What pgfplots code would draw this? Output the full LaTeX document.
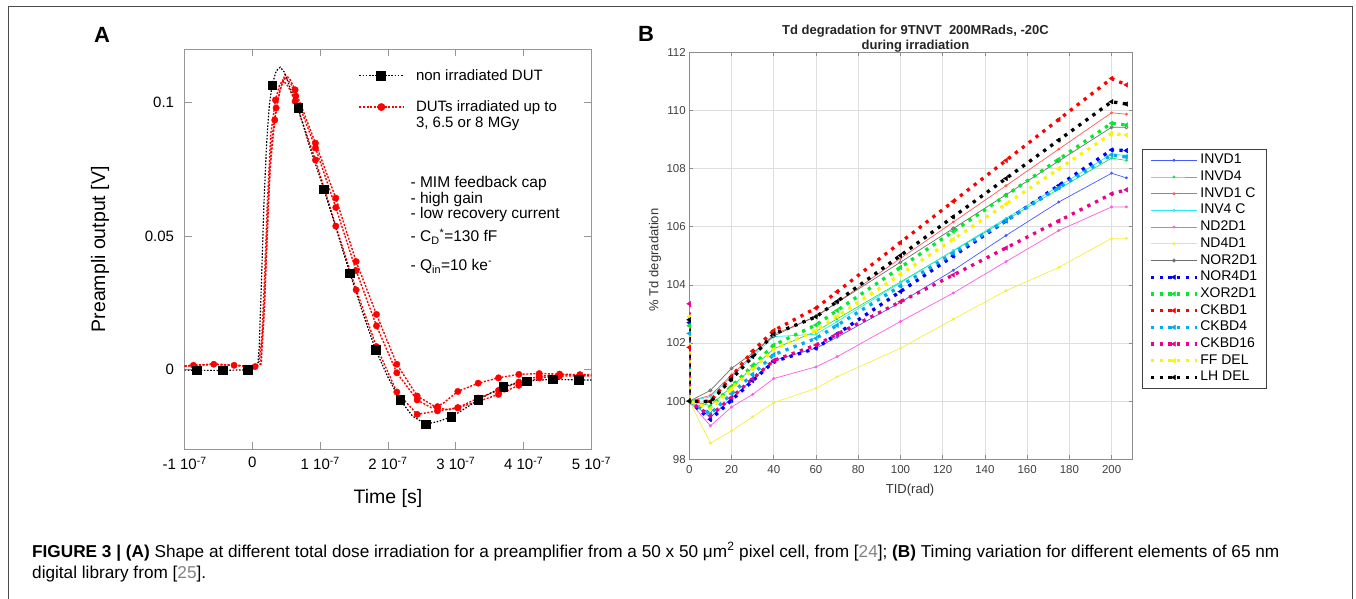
\documentclass[border=0pt]{standalone}
\usepackage{fontspec}
\setmainfont{Liberation Sans}
\usepackage{pgfplots}
\pgfplotsset{compat=1.18}
\definecolor{axgray}{RGB}{150,150,150}
\definecolor{mgreen}{RGB}{0,235,40}
\definecolor{sgreen}{RGB}{40,220,90}
\definecolor{sred}{RGB}{255,90,90}
\definecolor{sblue}{RGB}{70,90,255}
\definecolor{scyan}{RGB}{40,235,240}
\definecolor{smag}{RGB}{255,90,230}
\definecolor{syel}{RGB}{245,240,60}
\definecolor{sgray}{RGB}{110,110,110}
\definecolor{refgray}{RGB}{130,130,130}
\begin{document}
\begin{tikzpicture}[x=1pt,y=1pt]
\path[use as bounding box] (0,0) rectangle (1356,598);
\draw[color=black!70, line width=1pt] (8,-2) -- (8,591) -- (1352,591) -- (1352,-2);
% ---------------- Panel A ----------------
\begin{axis}[
  at={(184.6pt,548.7pt)}, anchor=north west, scale only axis,
  width=406.8pt, height=400pt,
  xmin=-1, xmax=5, ymin=-0.03, ymax=0.12,
  xtick={-1,0,1,2,3,4,5},
  xticklabels={-1 10\textsuperscript{-7},0,1 10\textsuperscript{-7},2 10\textsuperscript{-7},3 10\textsuperscript{-7},4 10\textsuperscript{-7},5 10\textsuperscript{-7}},
  ytick={0,0.05,0.1}, yticklabels={0,0.05,0.1},
  axis line style={draw=axgray, line width=0.9pt},
  tick style={draw=axgray, line width=0.9pt}, major tick length=7pt,
  ticklabel style={font=\fontsize{15}{18}\selectfont},
  xticklabel style={yshift=-4pt},
  yticklabel style={xshift=-7pt},
  xlabel={Time [s]}, ylabel={Preampli output [V]},
  label style={font=\fontsize{19.5}{23}\selectfont},
  xlabel style={at={(axis description cs:0.5,-0.122)}, anchor=center},
  ylabel style={at={(axis description cs:-0.208,0.5)}, anchor=center},
  legend image code/.code={\draw[mark repeat=2,mark phase=2,#1] plot coordinates {(0pt,0pt) (22pt,0pt) (44pt,0pt)};},
  legend style={at={(axis description cs:0.42,0.96)}, anchor=north west, draw=none, fill=none,
    font=\fontsize{15}{16}\selectfont, row sep=15pt, column sep=10pt, nodes={inner sep=2pt}},
  legend cell align=left,
  clip=true,
]
% red curves (forget plot)
\addplot[red, line width=1.4pt, dash pattern=on 2pt off 1.6pt, forget plot] coordinates {
(-1,0.0012)(-0.87,0.0015)(-0.57,0.0019)(-0.27,0.0015)(0.04,0.001)(0.1,0.003)(0.14,0.012)(0.18,0.035)(0.22,0.062)(0.27,0.088)(0.34,0.101)(0.4,0.1065)(0.45,0.1085)(0.53,0.106)(0.63,0.1005)(0.93,0.0785)(1.23,0.0537)(1.53,0.0298)(1.83,0.0085)(2.13,-0.0085)(2.43,-0.0169)(2.73,-0.0156)(3.03,-0.0144)(3.33,-0.0121)(3.63,-0.0094)(3.93,-0.006)(4.23,-0.0032)(4.53,-0.0025)(4.83,-0.0025)(5,-0.0025)};
\addplot[red, only marks, mark=*, mark size=3.2pt, forget plot] coordinates {
(-0.87,0.0015)(-0.57,0.0019)(-0.27,0.0015)(0.04,0.001)(0.34,0.101)(0.63,0.1005)(0.93,0.0785)(1.23,0.0537)(1.53,0.0298)(1.83,0.0085)(2.13,-0.0085)(2.43,-0.0169)(2.73,-0.0156)(3.03,-0.0144)(3.33,-0.0121)(3.63,-0.0094)(3.93,-0.006)(4.23,-0.0032)(4.53,-0.0025)(4.83,-0.0025)};
\addplot[red, line width=1.4pt, dash pattern=on 2pt off 1.6pt, forget plot] coordinates {
(-1,0.0012)(-0.87,0.0015)(-0.57,0.0019)(-0.27,0.0015)(0.04,0.001)(0.12,0.002)(0.17,0.02)(0.21,0.045)(0.26,0.075)(0.33,0.0935)(0.4,0.104)(0.48,0.1105)(0.55,0.109)(0.63,0.1048)(0.93,0.0848)(1.23,0.0642)(1.53,0.0404)(1.83,0.0206)(2.13,0.0019)(2.43,-0.01)(2.73,-0.0145)(2.9,-0.0152)(3.03,-0.0144)(3.33,-0.0108)(3.63,-0.0079)(3.93,-0.0048)(4.23,-0.0026)(4.53,-0.002)(4.83,-0.0022)(5,-0.0022)};
\addplot[red, only marks, mark=*, mark size=3.2pt, forget plot] coordinates {
(0.33,0.0935)(0.63,0.1048)(0.93,0.0848)(1.23,0.0642)(1.53,0.0404)(1.83,0.0206)(2.13,0.0019)(2.43,-0.01)(2.73,-0.0145)(3.03,-0.0144)(3.33,-0.0108)(3.63,-0.0079)(3.93,-0.0048)(4.23,-0.0026)(4.53,-0.002)(4.83,-0.0022)};
\addplot[red, line width=1.4pt, dash pattern=on 2pt off 1.6pt, forget plot] coordinates {
(-1,0.0012)(-0.87,0.0015)(-0.57,0.0019)(-0.27,0.0015)(0.04,0.001)(0.13,0.002)(0.18,0.025)(0.23,0.06)(0.28,0.085)(0.35,0.098)(0.42,0.106)(0.49,0.1095)(0.57,0.107)(0.64,0.1025)(0.93,0.083)(1.23,0.0607)(1.53,0.037)(1.83,0.0163)(2.13,-0.0013)(2.43,-0.0115)(2.64,-0.0144)(2.8,-0.013)(3.03,-0.0083)(3.33,-0.0052)(3.63,-0.0032)(3.93,-0.0019)(4.23,-0.0016)(4.53,-0.0018)(4.83,-0.002)(5,-0.002)};
\addplot[red, only marks, mark=*, mark size=3.2pt, forget plot] coordinates {
(0.35,0.098)(0.64,0.1025)(0.93,0.083)(1.23,0.0607)(1.53,0.037)(1.83,0.0163)(2.13,-0.0013)(2.43,-0.0115)(2.73,-0.014)(3.03,-0.0083)(3.33,-0.0052)(3.63,-0.0032)(3.93,-0.0019)(4.23,-0.0016)(4.53,-0.0018)(4.83,-0.002)};
% black curve
\addplot[black, line width=1.2pt, dash pattern=on 1.6pt off 1.6pt, forget plot] coordinates {
(-1,-0.0003)(-0.82,-0.0004)(-0.44,-0.0004)(-0.07,-0.0002)(0.05,0.0003)(0.08,0.002)(0.1,0.008)(0.13,0.03)(0.17,0.062)(0.21,0.085)(0.25,0.099)(0.29,0.1066)(0.35,0.1118)(0.41,0.1133)(0.47,0.1115)(0.55,0.106)(0.674,0.0981)(0.85,0.083)(1.054,0.0676)(1.25,0.0515)(1.438,0.036)(1.63,0.021)(1.818,0.0073)(2.0,-0.003)(2.18,-0.0115)(2.36,-0.0175)(2.555,-0.0206)(2.75,-0.0195)(2.935,-0.0178)(3.13,-0.0148)(3.33,-0.0115)(3.52,-0.0088)(3.7,-0.0066)(3.88,-0.0052)(4.05,-0.0044)(4.43,-0.0037)(4.81,-0.004)(5,-0.004)};
\addplot[black, only marks, mark=square*, mark size=4.3pt, forget plot] coordinates {
(-0.82,-0.0004)(-0.44,-0.0004)(-0.07,-0.0002)(0.29,0.1066)(0.674,0.0981)(1.054,0.0676)(1.438,0.036)(1.818,0.0073)(2.18,-0.0115)(2.555,-0.0206)(2.935,-0.0178)(3.33,-0.0115)(3.7,-0.0066)(4.05,-0.0044)(4.43,-0.0037)(4.81,-0.004)};
\addlegendimage{black, line width=1.2pt, dash pattern=on 1.6pt off 1.6pt, mark=square*, mark size=4.3pt, mark options={solid}}
\addlegendentry{non irradiated DUT}
\addlegendimage{red, line width=1.4pt, dash pattern=on 2pt off 1.6pt, mark=*, mark size=3.2pt, mark options={solid}}
\addlegendentry{\vtop{\hbox{DUTs irradiated up to}\hbox{3, 6.5 or 8 MGy}}}
\end{axis}
% annotations A
\begin{scope}[every node/.style={anchor=west, font=\fontsize{15.5}{18}\selectfont, inner sep=0pt}]
\node at (410.4,414.7) {- MIM feedback cap};
\node at (410.4,399) {- high gain};
\node at (410.4,383.7) {- low recovery current};
\node at (410.4,361.3) {- C\textsubscript{D}\textsuperscript{*}=130 fF};
\node at (410.4,332) {- Q\textsubscript{in}=10 ke\textsuperscript{-}};
\end{scope}
\node[font=\bfseries\fontsize{22}{24}\selectfont] at (102,563) {A};
\node[font=\bfseries\fontsize{22}{24}\selectfont] at (646,564) {B};
% ---------------- Panel B ----------------
\begin{axis}[
  at={(689.3pt,545.7pt)}, anchor=north west, scale only axis,
  width=443.4pt, height=407pt,
  xmin=0, xmax=210, ymin=98, ymax=112,
  xtick={0,20,...,200}, ytick={98,100,...,112},
  grid=major, grid style={draw=black!13, line width=0.6pt},
  axis line style={draw=black!45, line width=0.8pt},
  tick style={draw=black!45, line width=0.6pt}, major tick length=4pt,
  /pgf/number format/assume math mode=true,
  ticklabel style={font=\fontsize{11.5}{13}\selectfont, text=black!75},
  xticklabel style={yshift=-3pt},
  title={Td degradation for 9TNVT\ \ 200MRads, -20C\\during irradiation},
  title style={font=\bfseries\fontsize{13}{14.5}\selectfont, align=center, at={(axis description cs:0.51,1)}, anchor=south, yshift=-9pt, text=black!85},
  xlabel={TID(rad)}, ylabel={\% Td degradation},
  label style={font=\fontsize{13}{15}\selectfont, text=black!80},
  xlabel style={at={(axis description cs:0.498,-0.0754)}, anchor=center},
  ylabel style={at={(axis description cs:-0.0774,0.49)}, anchor=center},
  legend image code/.code={\draw[mark repeat=2,mark phase=2,#1] plot coordinates {(0pt,0pt) (23pt,0pt) (46pt,0pt)};},
  legend style={at={(axis description cs:1.021,0.7624)}, anchor=north west, draw=black!75, line width=0.7pt,
    font=\fontsize{14}{16}\selectfont, row sep=0pt, inner xsep=7pt, inner ysep=2.6pt,
    nodes={inner sep=1.7pt, text height=10.2pt, text depth=3.1pt}},
  legend cell align=left,
  solidser/.style={line width=0.7pt, mark=*, mark size=1.1pt, mark options={solid}},
  dashser/.style={line width=3.3pt, dash pattern=on 3.3pt off 5.4pt, mark=triangle*, mark size=2.6pt, mark options={solid, rotate=90, line width=0.4pt}},
]
\addplot[sblue, solidser] coordinates {(0,100)(10,99.45)(20,100.1)(30,100.75)(40,101.4)(60,101.82)(70,102.2)(100,103.4)(125,104.5)(150,105.7)(175,106.85)(200,107.84)(207,107.68)};
\addlegendentry{INVD1}
\addplot[sgreen, solidser] coordinates {(0,100)(10,99.85)(20,100.5)(30,101.15)(40,101.8)(60,102.4)(70,102.83)(100,104.1)(125,105.17)(150,106.23)(175,107.3)(200,108.36)(207,108.28)};
\addlegendentry{INVD4}
\addplot[sred, solidser] coordinates {(0,100)(10,100.2)(20,100.9)(30,101.6)(40,102.3)(60,102.9)(70,103.4)(100,104.91)(125,106.16)(150,107.41)(175,108.67)(200,109.92)(207,109.87)};
\addlegendentry{INVD1 C}
\addplot[scyan, solidser] coordinates {(0,100)(10,100.15)(20,100.84)(30,101.53)(40,102.22)(60,102.3)(70,102.74)(100,104.07)(125,105.18)(150,106.29)(175,107.39)(200,108.5)(207,108.45)};
\addlegendentry{INV4 C}
\addplot[smag, solidser] coordinates {(0,100)(10,99.15)(20,99.8)(30,100.23)(40,100.78)(60,101.18)(70,101.53)(100,102.74)(125,103.72)(150,104.8)(175,105.87)(200,106.68)(207,106.68)};
\addlegendentry{ND2D1}
\addplot[syel, solidser] coordinates {(0,100)(10,98.56)(20,98.98)(30,99.46)(40,99.95)(60,100.44)(70,100.84)(100,101.82)(125,102.82)(150,103.8)(175,104.6)(200,105.6)(207,105.6)};
\addlegendentry{ND4D1}
\addplot[sgray, line width=0.7pt, mark=o, mark size=1.6pt, mark options={solid}] coordinates {(0,100)(10,100.37)(20,101.13)(30,101.65)(40,102.24)(60,102.93)(70,103.39)(100,104.78)(125,105.94)(150,107.1)(175,108.26)(200,109.42)(207,109.42)};
\addlegendentry{NOR2D1}
\addplot[blue, dashser] coordinates {(0,102.7)(0,100)(10,99.37)(20,100.03)(30,100.7)(40,101.36)(60,101.82)(70,102.31)(100,103.77)(125,104.99)(150,106.2)(175,107.42)(200,108.64)(207,108.62)};
\addlegendentry{NOR4D1}
\addplot[mgreen, dashser] coordinates {(0,102.6)(0,100)(10,99.8)(20,100.51)(30,101.22)(40,101.93)(60,102.62)(70,103.12)(100,104.6)(125,105.84)(150,107.08)(175,108.32)(200,109.56)(207,109.5)};
\addlegendentry{XOR2D1}
\addplot[red, dashser] coordinates {(0,101.85)(0,100)(10,100.0)(20,100.85)(30,101.72)(40,102.43)(60,103.2)(70,103.76)(100,105.46)(125,106.87)(150,108.28)(175,109.69)(200,111.1)(207,110.88)};
\addlegendentry{CKBD1}
\addplot[cyan, dashser] coordinates {(0,102.33)(0,100)(10,99.57)(20,100.25)(30,100.92)(40,101.6)(60,102.16)(70,102.61)(100,103.96)(125,105.09)(150,106.22)(175,107.34)(200,108.47)(207,108.4)};
\addlegendentry{CKBD4}
\addplot[magenta, dashser] coordinates {(0,103.35)(0,100)(10,99.5)(20,100.13)(30,100.77)(40,101.4)(60,101.93)(70,102.3)(100,103.42)(125,104.34)(150,105.27)(175,106.2)(200,107.13)(207,107.27)};
\addlegendentry{CKBD16}
\addplot[yellow, dashser] coordinates {(0,102.9)(0,100)(10,99.75)(20,100.43)(30,101.1)(40,101.78)(60,102.43)(70,102.91)(100,104.36)(125,105.57)(150,106.78)(175,107.99)(200,109.2)(207,109.15)};
\addlegendentry{FF DEL}
\addplot[black, dashser] coordinates {(0,102.8)(0,100)(10,99.98)(20,100.76)(30,101.53)(40,102.31)(60,102.9)(70,103.43)(100,105.01)(125,106.34)(150,107.66)(175,108.98)(200,110.3)(207,110.22)};
\addlegendentry{LH DEL}
\end{axis}
% ---------------- Caption ----------------
\node[anchor=base west, inner sep=0pt, font=\fontsize{17.2}{20}\selectfont] at (32,41)
 {\textbf{FIGURE 3 | (A)} Shape at different total dose irradiation for a preamplifier from a 50 x 50 μm\textsuperscript{2} pixel cell, from [\textcolor{refgray}{24}]; \textbf{(B)} Timing variation for different elements of 65 nm};
\node[anchor=base west, inner sep=0pt, font=\fontsize{17.2}{20}\selectfont] at (32,19.5)
 {digital library from [\textcolor{refgray}{25}].};
\end{tikzpicture}
\end{document}
